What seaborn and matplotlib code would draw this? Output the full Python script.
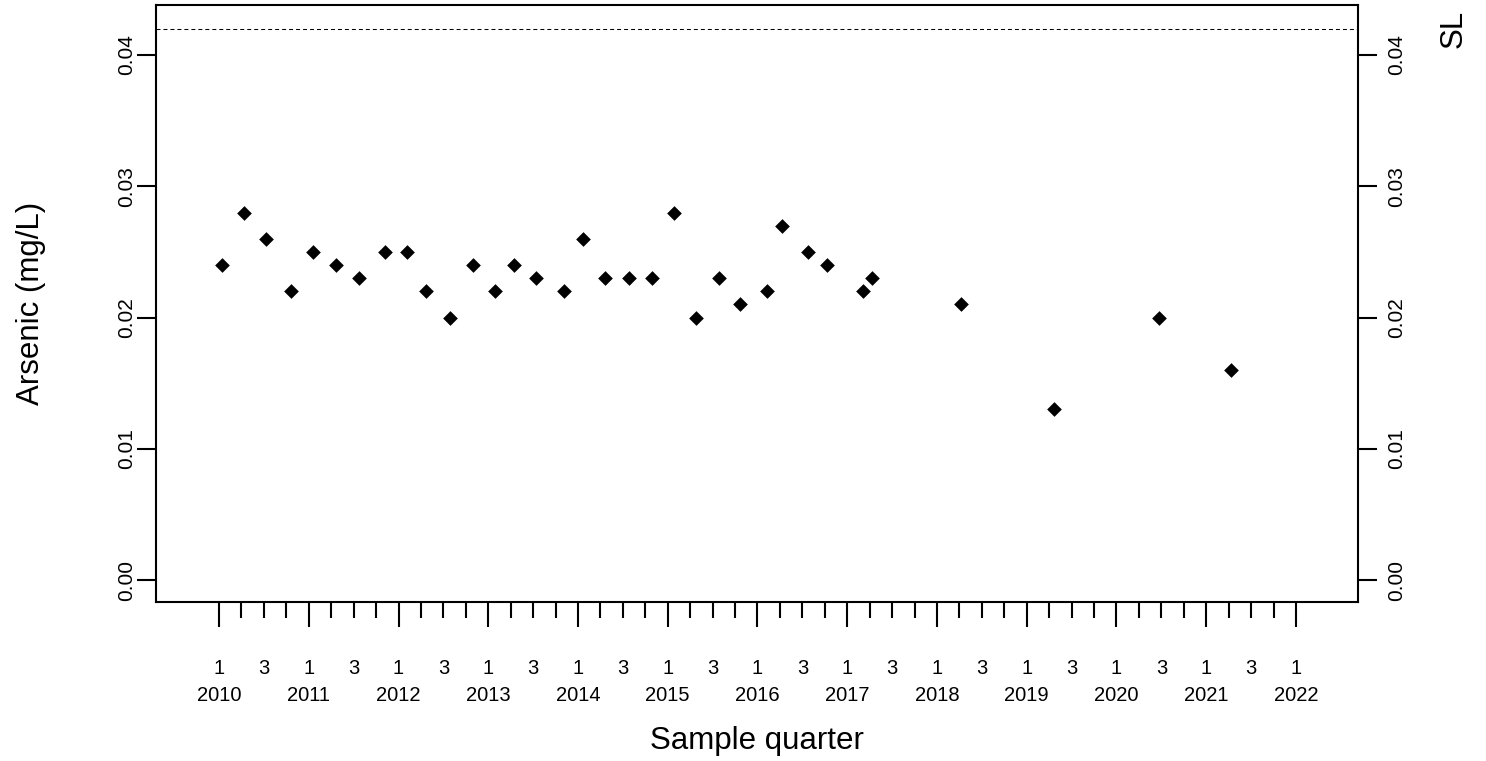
import matplotlib
matplotlib.use("Agg")
import matplotlib.pyplot as plt
import matplotlib.transforms as mtransforms
import seaborn as sns
import numpy as np
import pandas as pd

# ---- data (sample date as decimal year, arsenic in mg/L) ----
sample_time = [2010.033, 2010.282, 2010.527, 2010.802, 2011.047, 2011.300, 2011.563, 2011.850,
               2012.098, 2012.303, 2012.577, 2012.827, 2013.075, 2013.287, 2013.535, 2013.844,
               2014.056, 2014.304, 2014.571, 2014.821, 2015.070, 2015.318, 2015.568, 2015.802,
               2016.102, 2016.276, 2016.566, 2016.774, 2017.179, 2017.276, 2018.271, 2019.307,
               2020.474, 2021.279]
arsenic = [0.024, 0.028, 0.026, 0.022, 0.025, 0.024, 0.023, 0.025,
           0.025, 0.022, 0.020, 0.024, 0.022, 0.024, 0.023, 0.022,
           0.026, 0.023, 0.023, 0.023, 0.028, 0.020, 0.023, 0.021,
           0.022, 0.027, 0.025, 0.024, 0.022, 0.023, 0.021, 0.013,
           0.020, 0.016]
years = list(range(2010, 2023))
y_ticks = [0.00, 0.01, 0.02, 0.03, 0.04]
sl_value = 0.042
sl_label = "SL"
x_label = "Sample quarter"
y_label = "Arsenic (mg/L)"

df = pd.DataFrame({"time": sample_time, "arsenic": arsenic})

sns.set_style("white")
plt.rcParams["font.family"] = ["Liberation Sans", "DejaVu Sans"]
plt.rcParams["text.color"] = "black"
plt.rcParams["axes.labelcolor"] = "black"

W, H = 1486, 761
fig = plt.figure(figsize=(W / 100, H / 100), dpi=100)
L, R, T, B = 156, 1358, 5, 602
ax = fig.add_axes([L / W, (H - B) / H, (R - L) / W, (B - T) / H])

sns.scatterplot(data=df, x="time", y="arsenic", ax=ax, marker="D", color="black",
                s=56, linewidth=0, legend=False, zorder=3)

ax.axhline(sl_value, color="black", lw=0.75, ls=(0, (3.8, 2.9)), zorder=2)

ax.set_xlim(2009.298, 2022.691)
ax.set_ylim(-0.001676, 0.04381)

# x ticks: major at Q1 of each year, minor at other quarters
ax.set_xticks(years)
ax.set_xticklabels([f"1\n{y}" for y in years], linespacing=1.53)
minor_pos = []
minor_lab = []
for y in years[:-1]:
    for q in (2, 3, 4):
        minor_pos.append(y + (q - 1) / 4)
        minor_lab.append("3" if q == 3 else "")
ax.set_xticks(minor_pos, minor=True)
ax.set_xticklabels(minor_lab, minor=True)

ax.set_yticks(y_ticks)
ax.set_yticklabels([f"{v:.2f}" for v in y_ticks])

ax.tick_params(axis="x", which="major", direction="out", length=18, width=1.5,
               pad=23, labelsize=14.5, color="black", labelcolor="black", bottom=True)
ax.tick_params(axis="x", which="minor", direction="out", length=11.5, width=1.5,
               pad=29.5, labelsize=14.5, color="black", labelcolor="black", bottom=True)
ax.tick_params(axis="y", which="major", direction="out", length=14, width=1.5,
               labelsize=15, left=True, right=True, labelleft=True, labelright=True,
               labelrotation=90, color="black", labelcolor="black")
for t in ax.yaxis.get_major_ticks():
    t.label1.set_va("center")
    t.label2.set_va("center")
    t.label1.set_ha("right")
    t.label2.set_ha("left")
    t.set_pad(1)

for s in ax.spines.values():
    s.set_visible(True)
    s.set_linewidth(1.5)
    s.set_color("black")

ax.set_xlabel(x_label, fontsize=22.5, color="black")
ax.xaxis.set_label_coords(0.5, (B - 726) / (B - T))
ax.set_ylabel(y_label, fontsize=22.5, color="black")
ax.yaxis.set_label_coords((46 - L) / (R - L), 0.5)

trans = mtransforms.blended_transform_factory(ax.transAxes, ax.transData)
ax.text((1454 - L) / (R - L), sl_value, sl_label, transform=trans, rotation=90,
        ha="center", va="center", fontsize=22.5, color="black")

fig.canvas.draw()
# shift right-hand tick labels outward to match reference spacing
for t in ax.yaxis.get_major_ticks():
    t.label2.set_transform(t.label2.get_transform() +
                           mtransforms.ScaledTranslation(6 / 72, 0, fig.dpi_scale_trans))
    t.label1.set_transform(t.label1.get_transform() +
                           mtransforms.ScaledTranslation(1 / 72, 0, fig.dpi_scale_trans))

fig.savefig("out.png", dpi=100)
